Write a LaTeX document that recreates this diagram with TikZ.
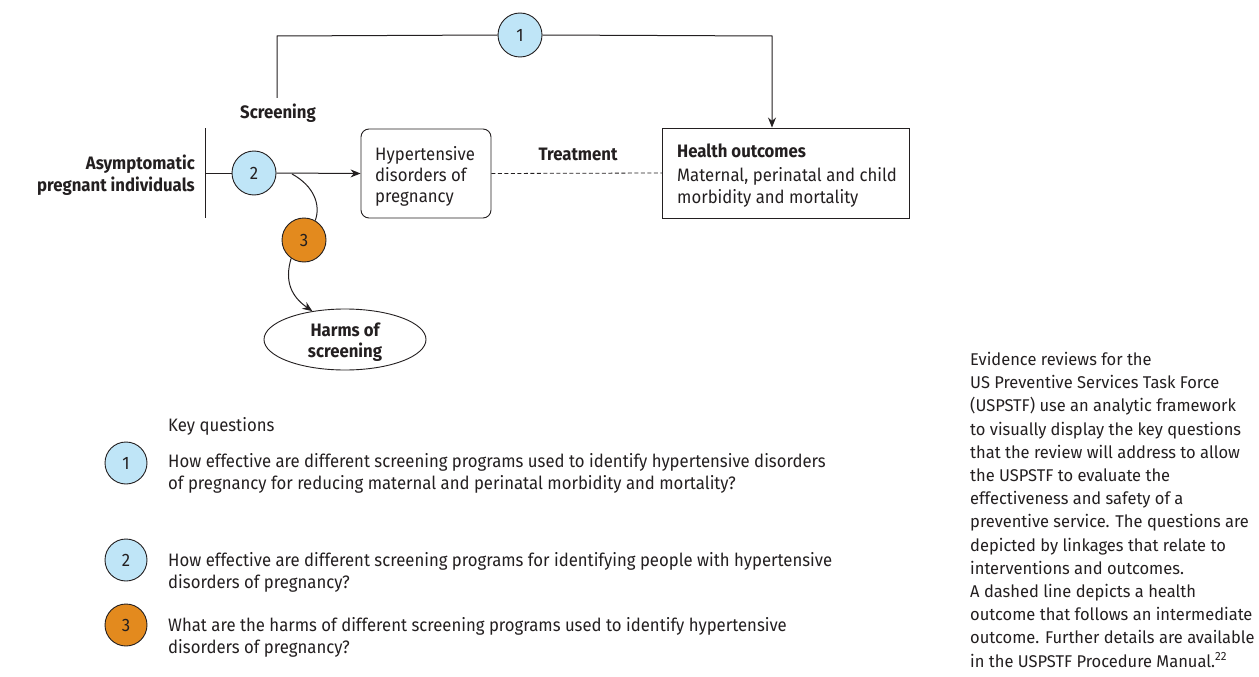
\documentclass[tikz,border=0pt]{standalone}
\usepackage{fontspec}
\setmainfont{Fira Sans}[FakeStretch=0.93]
\newfontfamily\rightfont{Fira Sans}[FakeStretch=0.97]
\usetikzlibrary{shapes.geometric,arrows.meta}
\definecolor{kqblue}{HTML}{BFE5F7}
\definecolor{kqorange}{HTML}{E38A1E}
\definecolor{ink}{HTML}{231F20}
\begin{document}
\begin{tikzpicture}[x=1pt,y=-1pt,
  every node/.style={text=ink},
  fs/.style={font=\fontsize{18}{22}\selectfont},
  lbl/.style={font=\fontsize{18}{22}\selectfont\bfseries},
  ln/.style={anchor=base west,inner sep=0pt,fs},
  kq/.style={circle,draw=ink,line width=0.9pt,minimum size=44pt,inner sep=0pt,font=\fontsize{18}{18}\selectfont},
  kqs/.style={circle,draw=ink,line width=0.9pt,minimum size=42pt,inner sep=0pt,font=\fontsize{18}{18}\selectfont},
  box/.style={draw=ink,line width=0.9pt,inner sep=0pt},
  conn/.style={draw=ink,line width=1pt},
  arr/.style={-{Stealth[length=10pt,width=8pt]}},
]
\useasboundingbox (0,0) rectangle (1259,677);

% boxes
\node[box,rounded corners=8pt,minimum width=130pt,minimum height=89pt] (hdp) at (426,173.5) {};
\node[ln] (h1) at (375,160) {Hypertensive};
\node[ln] (h2) at (375,181) {disorders of};
\node[ln] (h3) at (375,202) {pregnancy};
\node[box,minimum width=247pt,minimum height=90pt] (ho) at (786,173) {};
\node[ln,lbl] (o1) at (677,157) {Health outcomes};
\node[ln] (o2) at (677,181) {Maternal, perinatal and child};
\node[ln] (o3) at (677,203) {morbidity and mortality};
\node[ellipse,draw=ink,line width=0.9pt,minimum width=162pt,minimum height=61pt,inner sep=0pt] (harm) at (345,339.5) {};
\node[lbl,inner sep=0pt] (harm1) at (345,330) {Harms of};
\node[lbl,inner sep=0pt] (harm2) at (345,352) {screening};

% left population
\coordinate (bartop) at (205,128);
\coordinate (barbot) at (205,218);
\draw[conn] (bartop) -- (barbot);
\node[anchor=base east,lbl,inner sep=0pt] (pop1) at (195,169) {Asymptomatic};
\node[anchor=base east,lbl,inner sep=0pt] (pop2) at (195,191) {pregnant individuals};
\coordinate (start) at (205,173);

% KQ circles on diagram
\node[kq,fill=kqblue] (c1) at (520,35) {1};
\node[kq,fill=kqblue] (c2) at (254,173) {2};
\node[kq,fill=kqorange] (c3) at (304,240) {3};

% labels
\node[lbl,inner sep=0pt] (scr) at (278,113) {Screening};
\node[lbl,inner sep=0pt] (trt) at (578,154) {Treatment};

% connectors
\coordinate (tl) at (277,36);
\coordinate (tr) at (772,36);
\coordinate (sb) at (277,98);
\draw[conn] (sb) -- (tl) -- (c1.west);
\draw[conn,arr] (c1.east) -- (tr) -- (ho.north -| tr);
\draw[conn] (start) -- (c2.west);
\draw[conn,arr] (c2.east) -- (hdp.west);
\draw[conn,dashed,dash pattern=on 4pt off 2.5pt,line width=0.8pt] (hdp.east) -- (ho.west);
\coordinate (cs) at (292,174);
\draw[conn] (cs) .. controls (314,186) and (321,205) .. (c3.60);
\draw[conn,arr] (c3.235) .. controls (284,282) and (292,297) .. (harm.139);

% key questions
\node[ln] (kqh) at (168,431) {Key questions};
\node[kqs,fill=kqblue] (k1) at (126,463) {1};
\node[ln] (q1a) at (168,467) {How effective are different screening programs used to identify hypertensive disorders};
\node[ln] (q1b) at (168,489) {of pregnancy for reducing maternal and perinatal morbidity and mortality?};
\node[kqs,fill=kqblue] (k2) at (126,560) {2};
\node[ln] (q2a) at (168,566) {How effective are different screening programs for identifying people with hypertensive};
\node[ln] (q2b) at (168,588) {disorders of pregnancy?};
\node[kqs,fill=kqorange] (k3) at (126,625) {3};
\node[ln] (q3a) at (168,631) {What are the harms of different screening programs used to identify hypertensive};
\node[ln] (q3b) at (168,653) {disorders of pregnancy?};

% right text
\node[anchor=north west,align=left,inner sep=0pt,font=\rightfont\fontsize{17}{23.2}\selectfont] (note) at (970,352) {Evidence reviews for the\\US Preventive Services Task Force\\(USPSTF) use an analytic framework\\to visually display the key questions\\that the review will address to allow\\the USPSTF to evaluate the\\effectiveness and safety of a\\preventive service. The questions are\\depicted by linkages that relate to\\interventions and outcomes.\\A dashed line depicts a health\\outcome that follows an intermediate\\outcome. Further details are available\\in the USPSTF Procedure Manual.\textsuperscript{22}};
\end{tikzpicture}
\end{document}
